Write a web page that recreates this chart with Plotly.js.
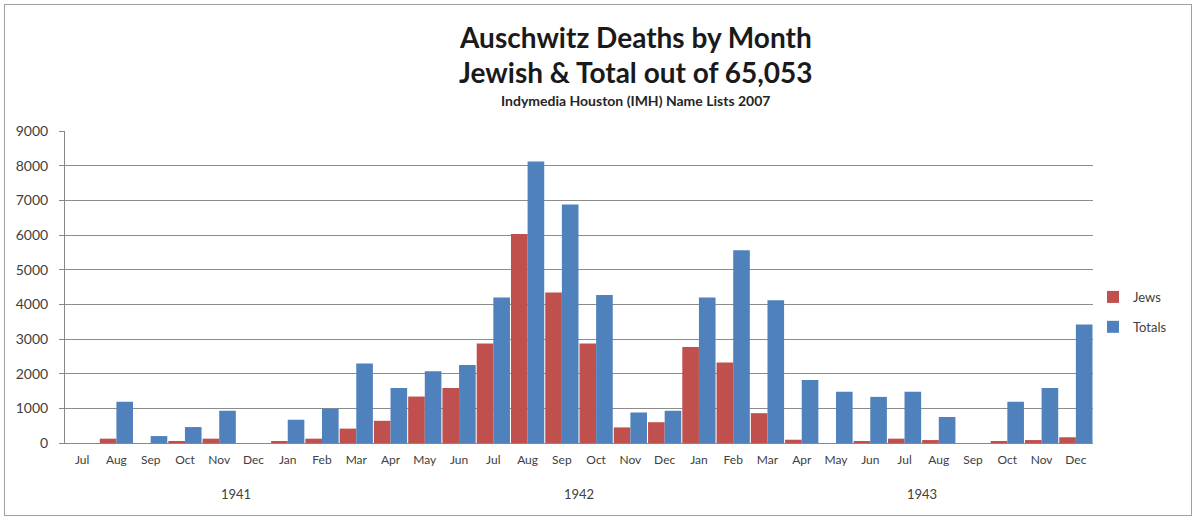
<!DOCTYPE html>
<html>
<head>
<meta charset="utf-8">
<script src="https://cdn.plot.ly/plotly-3.0.1.min.js"></script>
<style>
  body { margin: 0; background: #fff; }
  #chart { position: absolute; left: 4px; top: 4px; width: 1186px; height: 510px; border: 1px solid #a0a0a0; }
</style>
</head>
<body>
<div id="chart"></div>
<script>
// month labels, and the year row as it appears on the original sheet (groups of 10)
let months = ["Jul", "Aug", "Sep", "Oct", "Nov", "Dec", "Jan", "Feb", "Mar", "Apr",
              "May", "Jun", "Jul", "Aug", "Sep", "Oct", "Nov", "Dec", "Jan", "Feb",
              "Mar", "Apr", "May", "Jun", "Jul", "Aug", "Sep", "Oct", "Nov", "Dec"];
let years = ["1941", "1941", "1941", "1941", "1941", "1941", "1941", "1941", "1941", "1941",
             "1942", "1942", "1942", "1942", "1942", "1942", "1942", "1942", "1942", "1942",
             "1943", "1943", "1943", "1943", "1943", "1943", "1943", "1943", "1943", "1943"];

// deaths per month
let jews = [0, 125, 0, 50, 125, 0, 50, 125, 415, 640, 1340, 1590,
            2870, 6030, 4340, 2870, 450, 600, 2770, 2320, 860, 95,
            0, 50, 125, 85, 0, 50, 85, 165];
let totals = [0, 1190, 200, 460, 930, 0, 670, 990, 2290, 1590, 2070, 2250,
              4200, 8120, 6880, 4270, 880, 930, 4200, 5560, 4120, 1820,
              1480, 1330, 1480, 750, 0, 1190, 1590, 3420];

let idx = months.map((m, i) => i);

let trace1 = {
  x: idx,
  y: jews,
  name: "Jews",
  type: "bar",
  legendgroup: "a",
  marker: { color: "#C0504D" }
};

let trace2 = {
  x: idx,
  y: totals,
  name: "Totals",
  type: "bar",
  legendgroup: "b",
  marker: { color: "#4F81BD" }
};

// year labels centred under their group of months
let yearAnns = [];
[...new Set(years)].forEach(yr => {
  let pos = idx.filter(i => years[i] === yr);
  yearAnns.push({
    x: (pos[0] + pos[pos.length - 1]) / 2,
    xref: "x",
    y: 0,
    yref: "paper",
    yshift: -61,
    text: yr,
    showarrow: false,
    font: { size: 13, color: "#404040" }
  });
});

// title lines
let titleAnns = [
  { text: "<b>Auschwitz Deaths by Month</b>", y: 32, size: 28, color: "#1a1a1a" },
  { text: "<b>Jewish &amp; Total out of 65,053</b>", y: 67, size: 28, color: "#1a1a1a" },
  { text: "<b>Indymedia Houston (IMH) Name Lists 2007</b>", y: 95, size: 14, color: "#262626" }
].map(t => ({
  text: t.text,
  x: 0.555,
  xref: "paper",
  xanchor: "center",
  y: 1,
  yref: "paper",
  yanchor: "middle",
  yshift: 126 - t.y,
  showarrow: false,
  font: { size: t.size, color: t.color }
}));

let layout = {
  width: 1186,
  height: 510,
  margin: { l: 60, r: 98, t: 126, b: 72 },
  paper_bgcolor: "#fff",
  plot_bgcolor: "#fff",
  font: { family: "Lato, 'Open Sans', sans-serif", color: "#404040" },
  bargap: 0.03,
  bargroupgap: 0,
  showlegend: true,
  legend: {
    x: 1.0,
    y: 0.42,
    yanchor: "middle",
    xanchor: "left",
    tracegroupgap: 10,
    itemwidth: 30,
    font: { size: 13, color: "#404040" }
  },
  annotations: titleAnns.concat(yearAnns),
  xaxis: {
    range: [-0.5, 29.5],
    tickmode: "array",
    tickvals: idx,
    ticktext: months,
    showline: true,
    linecolor: "#888",
    ticks: "",
    ticklabelstandoff: 6,
    tickfont: { size: 12, color: "#404040" },
    showgrid: false,
    zeroline: false
  },
  yaxis: {
    range: [0, 9000],
    dtick: 1000,
    showline: true,
    linecolor: "#888",
    ticks: "outside",
    ticklen: 5,
    tickcolor: "#888",
    ticklabelstandoff: 8,
    gridcolor: "#8c8c8c",
    tickfont: { size: 14, color: "#404040" },
    zeroline: false
  }
};

Plotly.newPlot("chart", [trace1, trace2], layout, { displayModeBar: false });
</script>
</body>
</html>
